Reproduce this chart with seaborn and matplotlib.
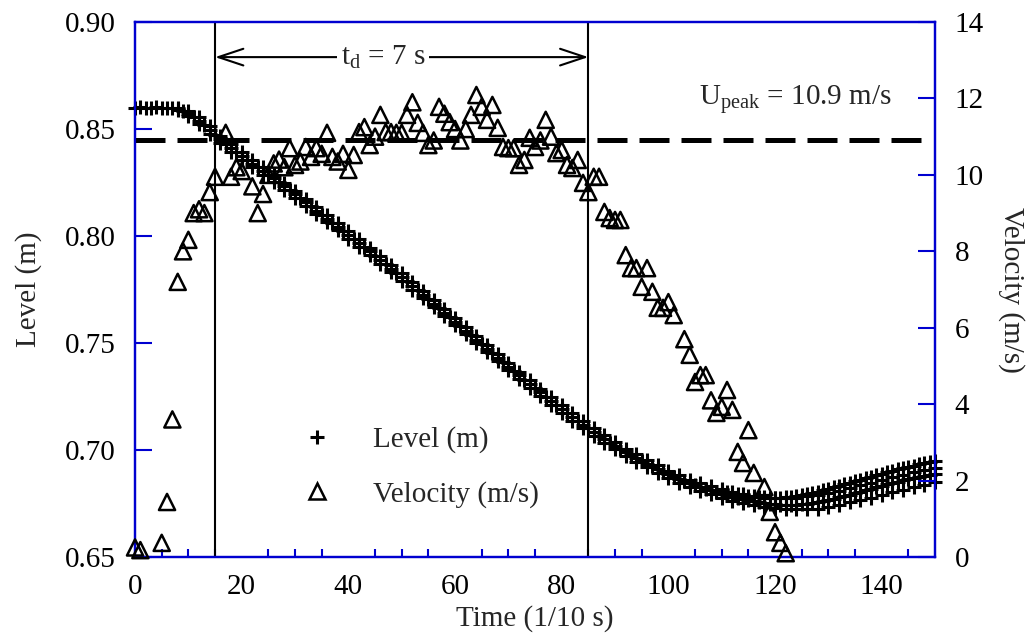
import matplotlib
matplotlib.use("Agg")
import matplotlib.pyplot as plt
from matplotlib.lines import Line2D
import pandas as pd
import seaborn as sns

# ---------------------------------------------------------------- data
# Water level, main run, sampled every 1/10 s from t = 0 to 150
level_time = list(range(0, 151))
level_main = [
    0.8600, 0.8601, 0.8599, 0.8600, 0.8601, 0.8600, 0.8600, 0.8598, 0.8592, 0.8583,
    0.8571, 0.8556, 0.8538, 0.8518, 0.8496, 0.8474, 0.8452, 0.8431, 0.8411, 0.8392,
    0.8374, 0.8356, 0.8338, 0.8321, 0.8304, 0.8287, 0.8269, 0.8251, 0.8233, 0.8214,
    0.8195, 0.8176, 0.8157, 0.8138, 0.8119, 0.8100, 0.8081, 0.8062, 0.8043, 0.8024,
    0.8005, 0.7986, 0.7967, 0.7947, 0.7928, 0.7908, 0.7888, 0.7868, 0.7848, 0.7828,
    0.7808, 0.7788, 0.7767, 0.7747, 0.7726, 0.7705, 0.7684, 0.7663, 0.7642, 0.7621,
    0.7600, 0.7579, 0.7558, 0.7537, 0.7516, 0.7495, 0.7474, 0.7453, 0.7432, 0.7411,
    0.7390, 0.7370, 0.7349, 0.7329, 0.7309, 0.7289, 0.7269, 0.7249, 0.7229, 0.7210,
    0.7191, 0.7172, 0.7154, 0.7136, 0.7118, 0.7101, 0.7084, 0.7067, 0.7051, 0.7035,
    0.7020, 0.7005, 0.6990, 0.6976, 0.6962, 0.6949, 0.6936, 0.6923, 0.6911, 0.6899,
    0.6887, 0.6876, 0.6865, 0.6855, 0.6845, 0.6836, 0.6827, 0.6819, 0.6811, 0.6803,
    0.6796, 0.6789, 0.6782, 0.6776, 0.6770, 0.6765, 0.6760, 0.6756, 0.6752, 0.6749,
    0.6747, 0.6745, 0.6744, 0.6744, 0.6745, 0.6747, 0.6750, 0.6753, 0.6757, 0.6762,
    0.6767, 0.6773, 0.6779, 0.6785, 0.6792, 0.6799, 0.6806, 0.6813, 0.6820, 0.6827,
    0.6834, 0.6840, 0.6846, 0.6852, 0.6858, 0.6864, 0.6870, 0.6875, 0.6880, 0.6885,
    0.6890,
]

# Two repeat runs, logged every 2/10 s once the level starts to fall
level_rep_time = [
    8, 10, 12, 14, 16, 18, 20, 22, 24, 26, 28, 30, 32, 34, 36, 38, 40, 42, 44, 46,
    48, 50, 52, 54, 56, 58, 60, 62, 64, 66, 68, 70, 72, 74, 76, 78, 80, 82, 84, 86,
    88, 90, 92, 94, 96, 98, 100, 102, 104, 106, 108, 110, 112, 114, 116, 118, 120, 122, 124, 126,
    128, 130, 132, 134, 136, 138, 140, 142, 144, 146, 148, 150,
]
level_rep_high = [
    0.8597, 0.8583, 0.8554, 0.8513, 0.8469, 0.8428, 0.8391, 0.8355, 0.8321, 0.8286,
    0.8250, 0.8212, 0.8174, 0.8136, 0.8098, 0.8060, 0.8022, 0.7984, 0.7945, 0.7905,
    0.7865, 0.7825, 0.7784, 0.7743, 0.7701, 0.7659, 0.7617, 0.7575, 0.7533, 0.7491,
    0.7449, 0.7407, 0.7366, 0.7326, 0.7286, 0.7246, 0.7208, 0.7171, 0.7135, 0.7101,
    0.7068, 0.7037, 0.7007, 0.6979, 0.6953, 0.6928, 0.6904, 0.6882, 0.6862, 0.6845,
    0.6830, 0.6816, 0.6804, 0.6794, 0.6786, 0.6780, 0.6777, 0.6776, 0.6778, 0.6783,
    0.6790, 0.6799, 0.6810, 0.6822, 0.6835, 0.6848, 0.6861, 0.6873, 0.6884, 0.6895,
    0.6905, 0.6915,
]
level_rep_low = [
    0.8588, 0.8561, 0.8522, 0.8479, 0.8435, 0.8394, 0.8357, 0.8321, 0.8287, 0.8252,
    0.8216, 0.8178, 0.8140, 0.8102, 0.8064, 0.8026, 0.7988, 0.7950, 0.7911, 0.7871,
    0.7831, 0.7791, 0.7750, 0.7709, 0.7667, 0.7625, 0.7583, 0.7541, 0.7499, 0.7457,
    0.7415, 0.7373, 0.7332, 0.7292, 0.7252, 0.7212, 0.7174, 0.7137, 0.7101, 0.7067,
    0.7034, 0.7003, 0.6973, 0.6945, 0.6919, 0.6894, 0.6870, 0.6848, 0.6828, 0.6810,
    0.6793, 0.6778, 0.6764, 0.6752, 0.6742, 0.6734, 0.6728, 0.6724, 0.6722, 0.6723,
    0.6726, 0.6735, 0.6745, 0.6756, 0.6767, 0.6778, 0.6790, 0.6802, 0.6814, 0.6826,
    0.6838, 0.6850,
]
# Late-stage repeat that recovers fastest (t = 110 ... 150)
level_late_time = list(range(110, 151))
level_late = [
    0.6812, 0.6806, 0.6800, 0.6795, 0.6790, 0.6786, 0.6782, 0.6779, 0.6777, 0.6776,
    0.6776, 0.6777, 0.6779, 0.6782, 0.6786, 0.6790, 0.6795, 0.6800, 0.6806, 0.6812,
    0.6818, 0.6825, 0.6832, 0.6839, 0.6846, 0.6853, 0.6860, 0.6867, 0.6874, 0.6881,
    0.6888, 0.6895, 0.6902, 0.6909, 0.6915, 0.6921, 0.6927, 0.6933, 0.6938, 0.6943,
    0.6948,
]

# Flow velocity (m/s)
vel_time = [
    0, 1, 5, 6, 7, 8, 9, 10, 11, 12, 13, 14, 15, 17, 18, 19, 20, 22, 23, 24,
    25, 26, 27, 28, 29, 30, 31, 32, 33, 34, 35, 36, 37, 38, 39, 40, 41, 42, 43, 44,
    45, 46, 47, 48, 49, 50, 51, 52, 53, 54, 55, 56, 57, 58, 59, 60, 61, 62, 63, 64,
    65, 66, 67, 68, 69, 70, 71, 72, 73, 74, 75, 76, 77, 78, 79, 80, 81, 82, 83, 84,
    85, 86, 87, 88, 89, 90, 91, 92, 93, 94, 95, 96, 97, 98, 99, 100, 101, 103, 104, 105,
    106, 107, 108, 109, 110, 111, 112, 113, 114, 115, 116, 118, 119, 120, 121, 122,
]
vel_value = [
    0.25, 0.18, 0.37, 1.44, 3.60, 7.20, 8.00, 8.30, 9.00, 9.10, 9.00, 9.55, 9.95, 11.10, 9.95, 10.20, 10.10, 9.70, 9.00, 9.50,
    10.00, 10.30, 10.40, 10.20, 10.70, 10.26, 10.35, 10.73, 10.47, 10.70, 10.55, 11.10, 10.47, 10.35, 10.55, 10.13, 10.52, 11.12, 11.25, 10.78,
    11.00, 11.57, 11.12, 11.12, 11.10, 11.10, 11.57, 11.90, 11.36, 11.10, 10.78, 10.90, 11.78, 11.60, 11.38, 11.20, 10.90, 11.20, 11.57, 12.09,
    11.78, 11.44, 11.83, 11.23, 10.73, 10.70, 10.70, 10.26, 10.39, 10.97, 10.73, 10.90, 11.44, 11.00, 10.57, 10.65, 10.26, 10.18, 10.39, 9.79,
    9.55, 9.95, 9.95, 9.03, 8.87, 8.82, 8.82, 7.90, 7.56, 7.56, 7.07, 7.56, 6.94, 6.52, 6.52, 6.67, 6.33, 5.70, 5.29, 4.58,
    4.76, 4.76, 4.10, 3.77, 3.93, 4.37, 3.85, 2.75, 2.46, 3.32, 2.20, 1.83, 1.18, 0.65, 0.37, 0.10,
]

# Drawdown window (in 1/10 s) and peak velocity
TD_START, TD_END = 15, 85
U_PEAK = 10.9

x_major = [0, 20, 40, 60, 80, 100, 120, 140]
x_minor = [5, 10, 15, 25, 30, 35, 45, 50, 55, 65, 70, 75, 85, 90, 95,
           105, 110, 115, 125, 130, 135, 145]
level_ticks = [0.65, 0.70, 0.75, 0.80, 0.85, 0.90]
vel_ticks = [0, 2, 4, 6, 8, 10, 12, 14]

# ---------------------------------------------------------------- style
sns.set_theme(style="white")
plt.rcParams["font.family"] = ["Liberation Serif", "DejaVu Serif"]
plt.rcParams["mathtext.fontset"] = "custom"
plt.rcParams["mathtext.rm"] = "Liberation Serif"
plt.rcParams["mathtext.it"] = "Liberation Serif:italic"

BLUE = "#0000D0"
FS = 21

level_df = pd.concat([
    pd.DataFrame({"time": level_time, "level": level_main, "run": "a"}),
    pd.DataFrame({"time": level_rep_time, "level": level_rep_high, "run": "b"}),
    pd.DataFrame({"time": level_rep_time, "level": level_rep_low, "run": "c"}),
    pd.DataFrame({"time": level_late_time, "level": level_late, "run": "d"}),
], ignore_index=True)
vel_df = pd.DataFrame({"time": vel_time, "velocity": vel_value})

fig, ax = plt.subplots(figsize=(10.34, 6.42), dpi=100)
fig.subplots_adjust(left=0.1306, right=0.9043, top=0.9657, bottom=0.1324)
ax2 = ax.twinx()

# Level (+ markers) on the left axis
sns.scatterplot(data=level_df, x="time", y="level", marker="+", color="black",
                s=110, linewidth=2.2, ax=ax, legend=False, clip_on=False, zorder=3)

# Velocity (open triangles) on the right axis
sns.scatterplot(data=vel_df, x="time", y="velocity", marker="^", s=135,
                facecolor="none", edgecolor="black", linewidth=1.8,
                ax=ax2, legend=False, clip_on=False, zorder=3)

# Drawdown window markers
for t in (TD_START, TD_END):
    ax.axvline(t, color="black", lw=1.5, zorder=2)

arrow_y = 0.8836
ax.annotate("", xy=(TD_START, arrow_y), xytext=(TD_END, arrow_y),
            arrowprops=dict(arrowstyle="<->,head_length=0.9,head_width=0.3",
                            color="black", lw=1.5, mutation_scale=20,
                            shrinkA=0, shrinkB=0), zorder=4)
ax.text(46.5, arrow_y, r"t$_\mathrm{d}$ = %g s" % ((TD_END - TD_START) / 10),
        ha="center", va="center", fontsize=FS, zorder=5,
        bbox=dict(fc="white", ec="none", pad=3))

# Peak velocity reference line
ax2.axhline(U_PEAK, xmin=0, xmax=148 / 150, color="black", lw=3.6,
            linestyle=(0, (6, 2.4)), dash_capstyle="butt", zorder=2)
ax2.text(141.9, 11.96, r"U$_\mathrm{peak}$ = %g m/s" % U_PEAK,
         ha="right", va="center", fontsize=FS)

# Axes, ticks, spines
ax.set_xlim(0, 150)
ax.set_ylim(0.65, 0.90)
ax2.set_ylim(0, 14)
ax.set_xticks(x_major)
ax.set_xticks(x_minor, minor=True)
ax.set_yticks(level_ticks)
ax.set_yticklabels([f"{v:.2f}" for v in level_ticks])
ax2.set_yticks(vel_ticks)

ax.tick_params(axis="both", which="major", direction="in", length=12, width=1.5,
               color=BLUE, labelcolor="black", labelsize=FS, pad=14,
               top=False, right=False)
ax.tick_params(axis="x", which="major", pad=12)
ax.tick_params(axis="x", which="minor", direction="in", length=6, width=1.5,
               color=BLUE, bottom=True, top=False)
ax2.tick_params(axis="y", which="major", direction="in", length=12, width=1.5,
                color=BLUE, labelcolor="black", labelsize=FS, pad=14)

for a in (ax, ax2):
    a.grid(False)
    for sp in a.spines.values():
        sp.set_color(BLUE)
        sp.set_linewidth(1.6)

ax.set_xlabel("Time (1/10 s)", fontsize=FS, labelpad=4)
ax.set_ylabel("Level (m)", fontsize=FS, labelpad=16)
ax2.set_ylabel("Velocity (m/s)", fontsize=FS, rotation=270, labelpad=30)

handles = [
    Line2D([], [], marker="+", ls="none", color="black", ms=10.5, mew=2.2),
    Line2D([], [], marker="^", ls="none", mfc="none", mec="black", ms=11.5, mew=1.8),
]
ax2.legend(handles, ["Level (m)", "Velocity (m/s)"], loc="center",
           bbox_to_anchor=(0.357, 0.168), frameon=False, fontsize=FS,
           handlelength=1.0, handletextpad=1.4, labelspacing=0.95)

fig.savefig("out.png", dpi=100)
